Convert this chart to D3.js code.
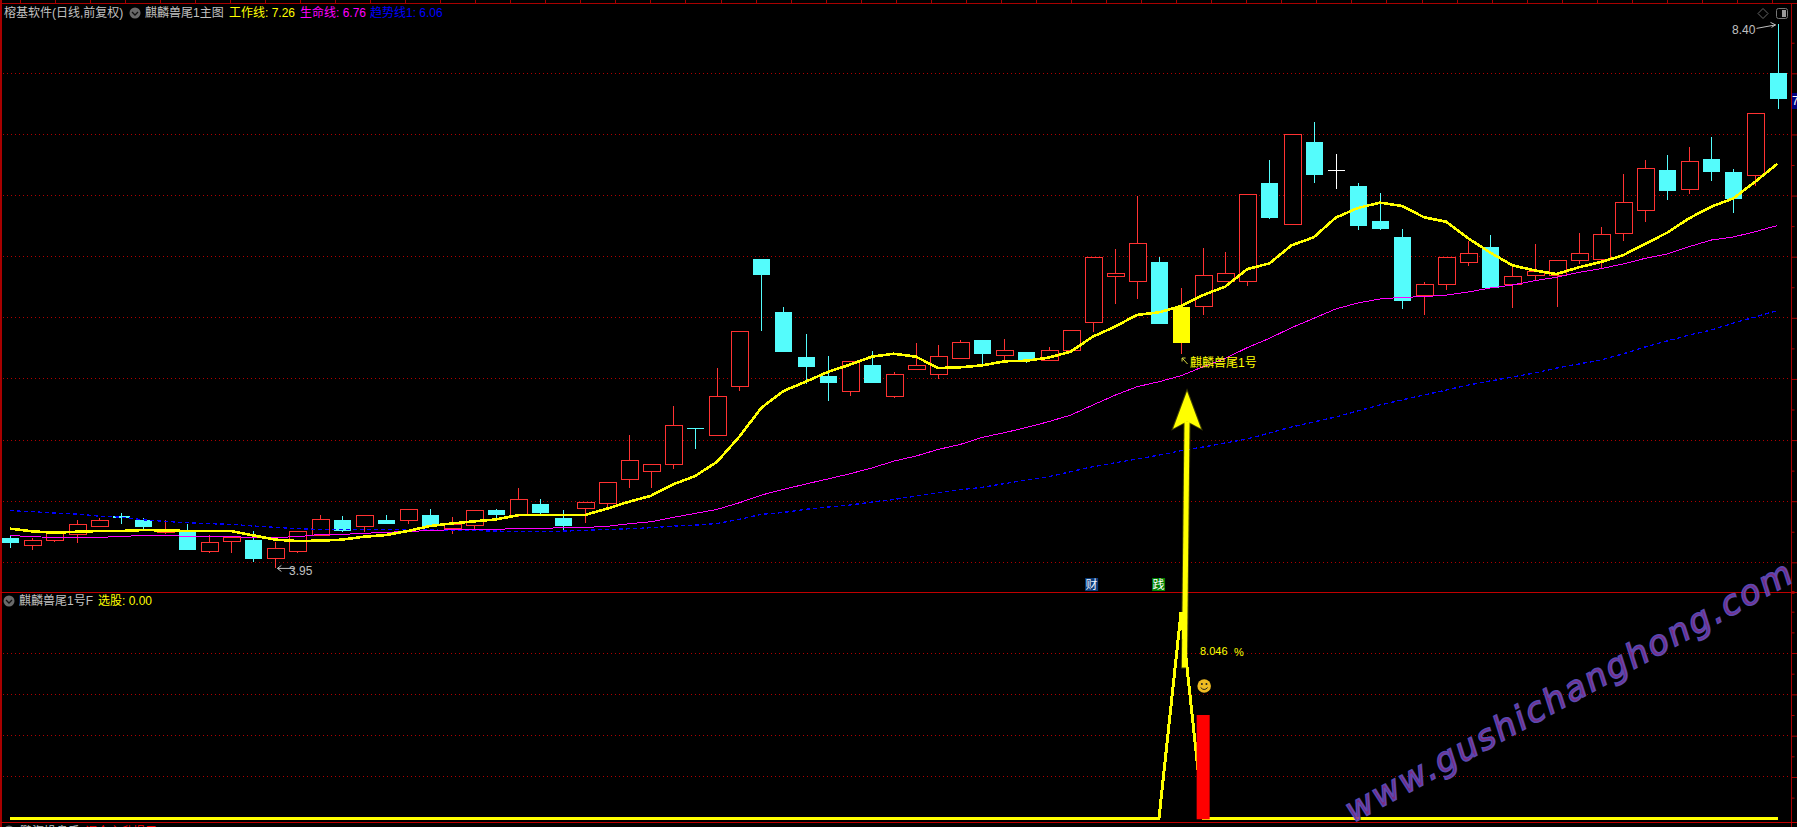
<!DOCTYPE html>
<html>
<head>
<meta charset="utf-8">
<script src="https://cdnjs.cloudflare.com/ajax/libs/d3/7.8.5/d3.min.js"></script>
<style>
html, body { margin: 0; padding: 0; background: #000; overflow: hidden; }
svg { display: block; }
text { font-family: "Liberation Sans", "Noto Sans CJK SC", sans-serif; font-size: 12px; }
</style>
</head>
<body>
<div id="container"></div>
<script>
const WIDTH = 1797;
const HEIGHT = 827;

const opens = [4.20,4.14,4.18,4.23,4.29,4.38,4.35,4.24,4.26,4.09,4.17,4.18,4.03,4.09,4.22,4.35,4.29,4.35,4.34,4.39,
    4.28,4.30,4.43,4.38,4.48,4.36,4.44,4.48,4.68,4.74,4.80,5.10,5.04,5.44,6.48,6.05,5.68,5.52,5.40,5.61,
    5.36,5.58,5.54,5.67,5.82,5.69,5.72,5.65,5.73,5.96,6.34,6.30,6.46,6.09,6.09,6.30,6.30,7.10,6.76,7.44,
    7.21,7.08,6.79,6.66,6.18,6.27,6.45,6.58,6.27,6.35,6.35,6.47,6.48,6.69,6.88,7.21,7.05,7.30,7.19,7.16,8.00];
const closes = [4.16,4.18,4.24,4.31,4.34,4.36,4.29,4.26,4.10,4.16,4.20,4.03,4.11,4.25,4.35,4.26,4.38,4.31,4.43,4.30,
    4.31,4.42,4.39,4.51,4.40,4.30,4.49,4.65,4.83,4.80,5.12,5.09,5.36,5.89,6.35,5.72,5.60,5.47,5.64,5.47,
    5.54,5.61,5.68,5.80,5.70,5.73,5.65,5.73,5.90,6.49,6.36,6.61,5.95,5.79,6.35,6.36,7.01,6.82,7.50,7.17,
    7.21,6.75,6.73,6.14,6.27,6.49,6.53,6.24,6.34,6.38,6.47,6.53,6.68,6.94,7.22,7.04,7.28,7.19,6.97,7.67,7.79];
const highs = [4.22,4.20,4.26,4.35,4.36,4.40,4.36,4.35,4.31,4.22,4.21,4.26,4.17,4.26,4.39,4.38,4.38,4.39,4.43,4.44,
    4.37,4.42,4.44,4.61,4.52,4.43,4.49,4.66,5.04,4.80,5.28,5.10,5.59,5.89,6.48,6.09,5.87,5.69,5.64,5.73,
    5.56,5.79,5.78,5.82,5.82,5.83,5.72,5.76,5.90,6.49,6.56,7.00,6.50,6.24,6.57,6.54,7.01,7.29,7.50,7.60,
    7.34,7.10,7.02,6.73,6.29,6.49,6.63,6.68,6.43,6.60,6.47,6.69,6.74,7.18,7.29,7.33,7.40,7.48,7.22,7.67,8.40];
const lows = [4.12,4.10,4.17,4.16,4.29,4.31,4.26,4.23,4.10,4.08,4.08,4.00,3.95,4.08,4.22,4.25,4.25,4.31,4.31,4.30,
    4.23,4.27,4.35,4.37,4.39,4.25,4.32,4.45,4.61,4.61,4.76,4.93,5.04,5.40,5.89,5.72,5.46,5.32,5.36,5.47,
    5.34,5.58,5.50,5.67,5.61,5.65,5.63,5.65,5.72,5.88,6.11,6.15,5.95,5.70,6.02,6.30,6.26,6.81,6.76,7.10,
    7.05,6.72,6.72,6.07,6.02,6.23,6.42,6.24,6.08,6.31,6.09,6.44,6.41,6.63,6.78,6.96,7.01,7.12,6.86,7.08,7.71];

// 工作线
const workLine = [4.275,4.253,4.242,4.250,4.256,4.256,4.264,4.261,4.256,4.256,4.256,4.220,4.185,4.174,4.177,4.185,4.209,4.223,4.256,4.297,
    4.318,4.335,4.351,4.386,4.386,4.386,4.386,4.438,4.495,4.544,4.637,4.705,4.823,5.027,5.264,5.401,5.477,5.556,5.616,5.682,
    5.706,5.682,5.589,5.595,5.611,5.644,5.649,5.674,5.723,5.845,5.927,6.023,6.045,6.096,6.186,6.255,6.399,6.445,6.593,6.658,
    6.819,6.898,6.942,6.915,6.822,6.786,6.650,6.533,6.429,6.388,6.358,6.413,6.456,6.511,6.604,6.696,6.814,6.909,6.977,7.114,7.261];
// 生命线
const lifeLine = [4.220,4.209,4.204,4.204,4.204,4.211,4.220,4.220,4.212,4.212,4.212,4.201,4.204,4.209,4.228,4.228,4.237,4.245,4.253,4.259,
    4.267,4.269,4.269,4.277,4.277,4.283,4.285,4.294,4.315,4.332,4.367,4.400,4.433,4.487,4.550,4.596,4.640,4.681,4.724,4.771,
    4.828,4.869,4.923,4.964,5.022,5.060,5.103,5.150,5.204,5.286,5.366,5.436,5.477,5.526,5.600,5.668,5.756,5.832,5.919,5.995,
    6.072,6.121,6.154,6.167,6.173,6.186,6.211,6.244,6.268,6.304,6.331,6.372,6.402,6.440,6.486,6.522,6.582,6.636,6.661,6.705,6.755];
// 趋势线1
const trendLine = [4.422,4.414,4.403,4.395,4.378,4.370,4.348,4.335,4.324,4.316,4.310,4.297,4.286,4.275,4.269,4.269,4.269,4.267,4.267,4.264,
    4.261,4.258,4.256,4.250,4.250,4.255,4.261,4.269,4.274,4.283,4.296,4.304,4.318,4.351,4.392,4.408,4.433,4.452,4.468,4.493,
    4.514,4.542,4.569,4.594,4.613,4.643,4.673,4.700,4.741,4.782,4.814,4.844,4.877,4.913,4.943,4.976,5.009,5.058,5.107,5.148,
    5.189,5.238,5.287,5.328,5.369,5.409,5.450,5.483,5.516,5.548,5.589,5.622,5.655,5.704,5.761,5.810,5.859,5.900,5.957,6.007,6.06];

// 选股 signal and its red bar (lower panel)
const signalValues = [0,0,0,0,0,0,0,0,0,0,0,0,0,0,0,0,0,0,0,0,
    0,0,0,0,0,0,0,0,0,0,0,0,0,0,0,0,0,0,0,0,
    0,0,0,0,0,0,0,0,0,0,0,0,0,1,0,0,0,0,0,0,
    0,0,0,0,0,0,0,0,0,0,0,0,0,0,0,0,0,0,0,0,0];
const barDays = [54];
const barValues = [0.5];

const priceGrid = [8,7.5,7,6.5,6,5.5,5,4.5,4];
const priceMinor = [8.25,7.75,7.25,6.75,6.25,5.75,5.25,4.75,4.25,3.75];
const signalGrid = [0.8,0.6,0.4,0.2];
const signalMinor = [1.1,1,0.9,0.7,0.5,0.3,0.1];

const RED = "#ff3232";
const CYAN = "#54fcfc";
const YELLOW = "#ffff00";
const AXIS = "#a80000";
const GRAY = "#c0c0c0";

var translate = function (x, y) {
    return "translate(" + x + "," + y + ")";
};

var svg = d3.select("#container").append("svg")
    .attr("width", WIDTH)
    .attr("height", HEIGHT);

var xScale = d3.scaleLinear().domain([0, 80]).range([10.3, 1777.5]);
var yScale = d3.scaleLinear().domain([8, 4]).range([73.3, 562.3]);
var ySignal = d3.scaleLinear().domain([0, 1]).range([818.3, 611.7]);

var snap = function (scale) {
    return function (d) { return Math.floor(scale(d)) + 0.5; };
};

var drawGrid = function () {
    var g = svg.append("g").attr("shape-rendering", "crispEdges");
    g.selectAll(".p").data(priceGrid).enter().append("line")
        .attr("x1", 3).attr("x2", 1790)
        .attr("y1", snap(yScale)).attr("y2", snap(yScale))
        .attr("stroke", "#b00000").attr("stroke-dasharray", "1,3");
    g.selectAll(".s").data(signalGrid).enter().append("line")
        .attr("x1", 3).attr("x2", 1790)
        .attr("y1", snap(ySignal)).attr("y2", snap(ySignal))
        .attr("stroke", "#b00000").attr("stroke-dasharray", "1,3");
    // frame
    g.append("rect").attr("x", 0).attr("y", 3).attr("width", WIDTH).attr("height", 1.4).attr("fill", AXIS);
    g.append("rect").attr("x", 0).attr("y", 0).attr("width", 1.6).attr("height", HEIGHT).attr("fill", AXIS);
    g.append("rect").attr("x", 1791).attr("y", 3).attr("width", 1).attr("height", HEIGHT).attr("fill", AXIS);
    g.append("rect").attr("x", 0).attr("y", 592).attr("width", WIDTH).attr("height", 1).attr("fill", "#c00000");
    g.append("rect").attr("x", 0).attr("y", 822).attr("width", WIDTH).attr("height", 1).attr("fill", "#c00000");

    var tops = d3.range(20, 1780, 35.05);
    g.selectAll(".t").data(tops).enter().append("line")
        .attr("x1", function (d) { return d; }).attr("x2", function (d) { return d; })
        .attr("y1", 0).attr("y2", 3).attr("stroke", AXIS);

    // right axes, labels fall outside the window
    var addAxis = function (scale, major, minor) {
        var m = svg.append("g").attr("transform", translate(1791.5, 0))
            .call(d3.axisRight(scale).tickValues(major).tickSize(6).tickFormat(""));
        m.select(".domain").remove();
        m.selectAll("line").attr("stroke", AXIS);
        var n = svg.append("g").attr("transform", translate(1791.5, 0))
            .call(d3.axisRight(scale).tickValues(minor).tickSize(3).tickFormat(""));
        n.select(".domain").remove();
        n.selectAll("line").attr("stroke", AXIS);
    };
    addAxis(yScale, priceGrid, priceMinor);
    addAxis(ySignal, signalGrid, signalMinor);
};

var drawCandles = function () {
    var days = d3.range(opens.length);
    var g = svg.append("g").attr("shape-rendering", "crispEdges");
    var color = function (i) {
        if (signalValues[i] > 0) return RED;
        if (closes[i] > opens[i]) return RED;
        if (closes[i] < opens[i]) return CYAN;
        return "#ffffff";
    };
    g.selectAll(".wick").data(days).enter().append("line")
        .attr("x1", function (i) { return Math.round(xScale(i)) + 0.5; })
        .attr("x2", function (i) { return Math.round(xScale(i)) + 0.5; })
        .attr("y1", function (i) { return yScale(highs[i]); })
        .attr("y2", function (i) { return yScale(lows[i]); })
        .attr("stroke", color);
    g.selectAll(".body").data(days).enter().append("rect")
        .attr("x", function (i) { return Math.round(xScale(i)) - 8; })
        .attr("width", 17)
        .attr("y", function (i) { return yScale(Math.max(opens[i], closes[i])); })
        .attr("height", function (i) {
            return Math.max(1, Math.abs(yScale(opens[i]) - yScale(closes[i])));
        })
        .attr("fill", function (i) {
            if (signalValues[i] > 0) return YELLOW;
            if (closes[i] > opens[i]) return "#000";
            return color(i);
        })
        .attr("stroke", function (i) {
            if (closes[i] > opens[i] && !(signalValues[i] > 0)) return RED;
            return "none";
        });
};

var drawLines = function () {
    var line = d3.line()
        .x(function (d, i) { return xScale(i); })
        .y(function (d) { return yScale(d); });
    svg.append("path").attr("d", line(trendLine))
        .attr("fill", "none").attr("stroke", "#0000ff").attr("stroke-width", 1.3)
        .attr("stroke-dasharray", "4,3").attr("shape-rendering", "crispEdges");
    svg.append("path").attr("d", line(lifeLine))
        .attr("fill", "none").attr("stroke", "#ff00ff").attr("stroke-width", 1)
        .attr("shape-rendering", "crispEdges");
    svg.append("path").attr("d", line(workLine))
        .attr("fill", "none").attr("stroke", YELLOW).attr("stroke-width", 2.6)
        .attr("shape-rendering", "crispEdges");
};

var drawSignal = function () {
    var line = d3.line()
        .x(function (d, i) { return xScale(i); })
        .y(function (d) { return ySignal(d); });
    svg.append("path").attr("d", line(signalValues))
        .attr("fill", "none").attr("stroke", YELLOW).attr("stroke-width", 3)
        .attr("shape-rendering", "crispEdges");
    svg.selectAll(".bar").data(barDays).enter().append("rect")
        .attr("x", function (d) { return xScale(d) - 6.5; })
        .attr("width", 13)
        .attr("y", function (d, i) { return ySignal(barValues[i]); })
        .attr("height", function (d, i) { return ySignal(0) - ySignal(barValues[i]) + 1; })
        .attr("fill", "#ff0000");
};

var addText = function (x, y, str, color, size) {
    return svg.append("text").attr("x", x).attr("y", y).text(str)
        .attr("fill", color).style("font-size", (size || 12) + "px");
};

var addFoldIcon = function (x, y) {
    svg.append("circle").attr("cx", x).attr("cy", y).attr("r", 5.5).attr("fill", "#6a6a6a");
    svg.append("path").attr("d", "M" + (x - 3) + "," + (y - 1) + "L" + x + "," + (y + 2) + "L" + (x + 3) + "," + (y - 1))
        .attr("fill", "none").attr("stroke", "#111").attr("stroke-width", 1.3);
};

var drawLabels = function () {
    addText(4, 17, "榕基软件(日线,前复权)", GRAY);
    addFoldIcon(135, 13);
    addText(145, 17, "麒麟兽尾1主图", GRAY);
    addText(229, 17, "工作线: 7.26", YELLOW);
    addText(300, 17, "生命线: 6.76", "#ff00ff");
    addText(370, 17, "趋势线1: 6.06", "#0000ff");

    addFoldIcon(9, 601);
    addText(19, 605, "麒麟兽尾1号F", GRAY);
    addText(98, 605, "选股: 0.00", YELLOW);

    // clipped legend of the next panel
    addFoldIcon(9, 831);
    addText(20, 836, "鹏海操盘手", GRAY);
    addText(85, 836, "调仓主升提示 0.00", "#ff0000");

    // high and low marks
    addText(1732, 34, "8.40", GRAY);
    svg.append("path").attr("d", "M" + (xScale(80) - 21) + "," + (yScale(8.40) + 4) + "L" + (xScale(80) - 2) + "," + (yScale(8.40) + 0.5)
        + "M" + (xScale(80) - 7) + "," + (yScale(8.40) - 2) + "L" + (xScale(80) - 2) + "," + (yScale(8.40) + 0.5) + "L" + (xScale(80) - 6) + "," + (yScale(8.40) + 3))
        .attr("fill", "none").attr("stroke", GRAY);
    addText(289, 575, "3.95", GRAY);
    svg.append("path").attr("d", "M" + (xScale(12) + 19) + "," + yScale(3.95) + "H" + (xScale(12) + 2)
        + "M" + (xScale(12) + 6) + "," + (yScale(3.95) - 3) + "L" + (xScale(12) + 2) + "," + yScale(3.95) + "L" + (xScale(12) + 6) + "," + (yScale(3.95) + 3))
        .attr("fill", "none").attr("stroke", GRAY);

    // top right icons
    svg.append("path").attr("d", "M1763,8.5L1768,13.5L1763,18.5L1758,13.5Z").attr("fill", "none").attr("stroke", "#666");
    svg.append("rect").attr("x", 1776.5).attr("y", 8.5).attr("width", 11).attr("height", 10).attr("rx", 2)
        .attr("fill", "none").attr("stroke", "#777");
    svg.append("rect").attr("x", 1782).attr("y", 10).attr("width", 4).attr("height", 7).attr("fill", "#999");

    // current price tag
    svg.append("rect").attr("x", 1792).attr("y", yScale(closes[80]) - 6).attr("width", 5).attr("height", 16).attr("fill", "#000080");
    addText(1792, yScale(closes[80]) + 6, "7.79", "#ffffff");
};

var drawMarkers = function () {
    // 麒麟兽尾1号 note under the yellow candle
    svg.append("path").attr("d", "M" + (xScale(53) + 1) + ",358L" + (xScale(53) + 6.5) + ",364M" + (xScale(53) + 1) + ",358v3.5M" + (xScale(53) + 1) + ",358h3.5")
        .attr("fill", "none").attr("stroke", "#d8d840");
    addText(1190, 367, "麒麟兽尾1号", YELLOW);

    // boxed event marks
    [[48, "财", "#0a3a78", "#e8f0ff"], [52, "践", "#008000", "#ffffff"]].forEach(function (m) {
        var mx = m[0] === 48 ? xScale(48) + 21 : xScale(52) - 0.4;
        svg.append("rect").attr("x", mx - 6.5).attr("y", 578).attr("width", 13).attr("height", 13).attr("fill", m[2]);
        svg.append("text").attr("x", mx).attr("y", 589).attr("text-anchor", "middle").text(m[1]).attr("fill", m[3]);
    });

    addText(1200, 655, "8.046", YELLOW, 11);
    addText(1234, 656, "%", YELLOW, 11);

    // smiley
    var sx = xScale(54) + 1, sy = 686;
    svg.append("circle").attr("cx", sx).attr("cy", sy).attr("r", 6.8).attr("fill", "#eebb22");
    svg.append("circle").attr("cx", sx - 2.3).attr("cy", sy - 2).attr("r", 1).attr("fill", "#222");
    svg.append("circle").attr("cx", sx + 2.3).attr("cy", sy - 2).attr("r", 1).attr("fill", "#222");
    svg.append("path").attr("d", "M" + (sx - 3.5) + "," + (sy + 1.5) + "Q" + sx + "," + (sy + 5.5) + "," + (sx + 3.5) + "," + (sy + 1.5))
        .attr("fill", "none").attr("stroke", "#222");

    // big hand drawn arrow
    var tipX = xScale(53.27), tipY = yScale(5.40);
    var endX = xScale(53.15), endY = ySignal(0.73);
    svg.append("path")
        .attr("d", "M" + (tipX - 2.5) + "," + (tipY + 30) + "L" + (endX - 2.5) + "," + endY + "H" + (endX + 2.5) + "L" + (tipX + 2.5) + "," + (tipY + 30) + "Z")
        .attr("fill", YELLOW).attr("stroke", "#ffff00").attr("stroke-opacity", 0.25).attr("stroke-width", 2);
    svg.append("path")
        .attr("d", "M" + tipX + "," + tipY + "L" + (tipX + 14) + "," + (tipY + 37.5) + "L" + tipX + "," + (tipY + 30) + "L" + (tipX - 14) + "," + (tipY + 37.5) + "Z")
        .attr("fill", YELLOW).attr("stroke", "#ffff00").attr("stroke-opacity", 0.25).attr("stroke-width", 2);
};

var drawWatermark = function () {
    svg.append("text")
        .attr("transform", translate(1353, 823) + " rotate(-28.7)")
        .text("www.gushichanghong.com")
        .attr("textLength", 504)
        .style("font-family", "'DejaVu Sans'")
        .style("font-style", "italic")
        .style("font-size", "34px")
        .attr("fill", "#93308f")
        .attr("fill-opacity", 0.9)
        .attr("stroke", "#5a48b0")
        .attr("stroke-width", 1.6);
};

drawGrid();
drawCandles();
drawLines();
drawSignal();
drawLabels();
drawMarkers();
drawWatermark();
</script>
</body>
</html>
